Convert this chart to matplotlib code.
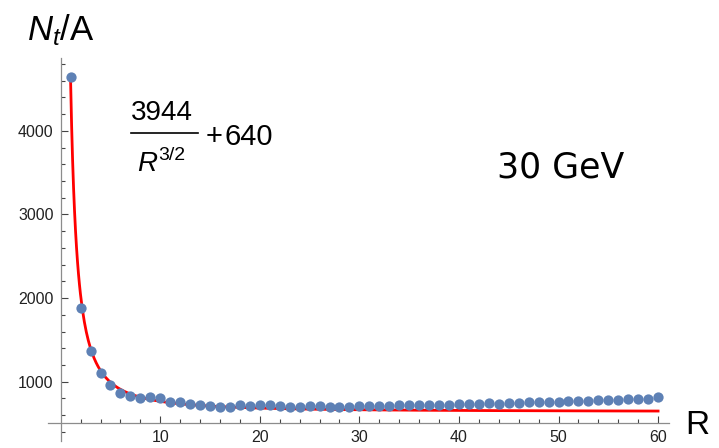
import matplotlib
matplotlib.use("Agg")
import matplotlib.pyplot as plt
from matplotlib.lines import Line2D
import numpy as np

plt.rcParams["font.family"] = ["Liberation Sans", "DejaVu Sans"]
plt.rcParams["mathtext.fontset"] = "custom"
plt.rcParams["mathtext.rm"] = "Liberation Sans"
plt.rcParams["mathtext.it"] = "Liberation Sans:italic"

# N_t/A per radius bin, 30 GeV
radius = list(range(1, 61))
nt_per_a = [
    4645, 1880, 1370, 1105, 955, 870, 825, 805, 815, 805,
    762, 758, 738, 723, 709, 702, 694, 719, 711, 721,
    719, 709, 700, 693, 706, 704, 699, 692, 699, 707,
    707, 708, 714, 715, 716, 716, 717, 720, 723, 727,
    731, 735, 739, 738, 744, 748, 752, 755, 757, 760,
    764, 767, 771, 775, 779, 783, 787, 791, 797, 812,
]

# fit: a / R^(3/2) + b
fit_a = 3944
fit_b = 640

x_major = [10, 20, 30, 40, 50, 60]
y_major = [1000, 2000, 3000, 4000]

W, H = 719, 448


def px(x, y):
    """pixel position (from top-left) -> figure fraction"""
    return x / W, 1 - y / H


fig = plt.figure(figsize=(W / 100, H / 100), dpi=100)
ax = fig.add_axes([0.0668, 0.0156, 0.8637, 0.8549])

r_fit = np.linspace(1, 60, 600)
ax.plot(r_fit, fit_a / r_fit ** 1.5 + fit_b, color="#ff0000", lw=2.0, zorder=2)
ax.plot(radius, nt_per_a, "o", color="#5e81b5", ms=7.4, mec="none", zorder=3,
        clip_on=False)

ax.set_xlim(-1.27, 61.1)
ax.set_ylim(290, 4872)

for side in ("top", "right"):
    ax.spines[side].set_visible(False)
ax.spines["left"].set_position(("data", 0))
ax.spines["bottom"].set_position(("data", 500))
for side in ("left", "bottom"):
    ax.spines[side].set_color("#8c8c8c")
    ax.spines[side].set_linewidth(0.9)

ax.set_xticks(x_major)
ax.set_xticks(np.arange(2, 60, 2), minor=True)
ax.set_yticks(y_major)
ax.set_yticks(np.arange(400, 4900, 200), minor=True)
ax.tick_params(which="both", direction="in", color="#444444", width=0.8,
               labelsize=11.5, labelcolor="#222222")
ax.tick_params(which="major", length=5, pad=5)
ax.tick_params(which="minor", length=3)

# axis labels
fig.text(*px(27, 40), r"$N_t$/A", fontsize=25, ha="left", va="baseline")
fig.text(*px(685, 434), "R", fontsize=24, ha="left", va="baseline")
fig.text(*px(497, 177), "30 GeV", fontsize=25, family="DejaVu Sans",
         ha="left", va="baseline")

# fit formula, laid out by hand: 3944 / R^(3/2) + 640
fig.text(*px(131, 120), str(fit_a), fontsize=20, ha="left", va="baseline")
x0, y0 = px(131, 133)
x1, _ = px(198, 133)
fig.add_artist(Line2D([x0, x1], [y0, y0], transform=fig.transFigure,
                      color="black", lw=1.2))
fig.text(*px(137, 171), "R", fontsize=20, style="italic", ha="left",
         va="baseline")
fig.text(*px(158, 160), "3/2", fontsize=14, ha="left", va="baseline")
fig.text(*px(206, 145), "+", fontsize=21, ha="left", va="baseline")
fig.text(*px(224, 145), str(fit_b), fontsize=21, ha="left", va="baseline")

fig.savefig("out.png", dpi=100)
plt.close(fig)
